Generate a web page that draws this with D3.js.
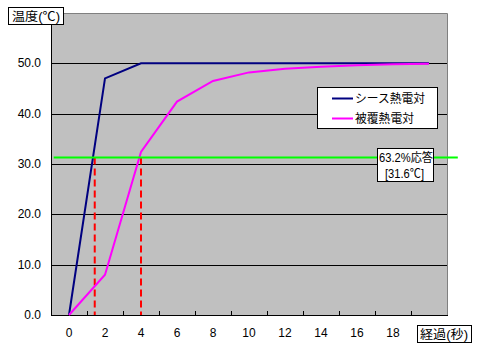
<!DOCTYPE html>
<html>
<head>
<meta charset="utf-8">
<script src="https://d3js.org/d3.v7.min.js"></script>
<style>
  body { margin: 0; background: #fff; }
  text { font-family: "Liberation Sans", "Noto Sans CJK JP", sans-serif; font-size: 12px; fill: #000; }
</style>
</head>
<body>
<svg id="vis"></svg>
<script>
// data
var timeSec = [0, 2, 4, 6, 8, 10, 12, 14, 16, 18, 20];
var sheathTemp = [0, 47, 50, 50, 50, 50, 50, 50, 50, 50, 50];
var coatedTemp = [0, 8, 32.4, 42.4, 46.5, 48.2, 48.9, 49.3, 49.6, 49.8, 49.9];
var seriesNames = ["シース熱電対", "被覆熱電対"];
var seriesColors = ["#000080", "#FF00FF"];
var yTicks = [0, 10, 20, 30, 40, 50];
var xTickLabels = [0, 2, 4, 6, 8, 10, 12, 14, 16, 18];
var xTickMarks = [1, 3, 5, 7, 9, 11, 13, 15, 17, 19];
var responseLevel = 31.3;          // where the green line sits
var responseSpan = [-0.85, 21.6];  // green line runs past the plot
var responseTimes = [1.43, 4];     // red dashed drops

var width = 480, height = 353;
var plot = {left: 51, right: 447, top: 13, bottom: 315};

var svg = d3.select("#vis")
    .attr("width", width)
    .attr("height", height);

var xScale = d3.scaleLinear().domain([-1, 21]).range([plot.left, plot.right]);
var yScale = d3.scaleLinear().domain([0, 60]).range([plot.bottom, plot.top]);

// plot background
svg.append("rect")
    .attr("x", plot.left).attr("y", plot.top)
    .attr("width", plot.right - plot.left).attr("height", plot.bottom - plot.top)
    .attr("fill", "#C0C0C0");

// gridlines
svg.append("g").selectAll("line")
    .data(yTicks.slice(1))
    .enter().append("line")
    .attr("x1", plot.left).attr("x2", plot.right)
    .attr("y1", function(d) { return Math.round(yScale(d)) + 0.5; })
    .attr("y2", function(d) { return Math.round(yScale(d)) + 0.5; })
    .attr("stroke", "#000").attr("stroke-width", 1);

// top / right border
svg.append("path")
    .attr("d", "M" + plot.left + "," + (plot.top + 0.5) + "H" + (plot.right + 0.5) + "V" + plot.bottom)
    .attr("fill", "none").attr("stroke", "#808080").attr("stroke-width", 1);

// axes
svg.append("line")
    .attr("x1", plot.left + 0.5).attr("x2", plot.left + 0.5)
    .attr("y1", plot.top).attr("y2", plot.bottom + 1)
    .attr("stroke", "#000");
svg.append("line")
    .attr("x1", plot.left).attr("x2", plot.right + 1)
    .attr("y1", plot.bottom + 0.5).attr("y2", plot.bottom + 0.5)
    .attr("stroke", "#000");

// x tick marks (inside, between labels)
svg.append("g").selectAll("line")
    .data(xTickMarks)
    .enter().append("line")
    .attr("x1", function(d) { return Math.round(xScale(d)) + 0.5; })
    .attr("x2", function(d) { return Math.round(xScale(d)) + 0.5; })
    .attr("y1", plot.bottom - 4).attr("y2", plot.bottom)
    .attr("stroke", "#000");

// y tick labels
svg.append("g").selectAll("text")
    .data(yTicks)
    .enter().append("text")
    .attr("x", 41)
    .attr("y", function(d) { return yScale(d) + 4; })
    .attr("text-anchor", "end")
    .text(function(d) { return d3.format(".1f")(d); });

// x tick labels
svg.append("g").selectAll("text")
    .data(xTickLabels)
    .enter().append("text")
    .attr("x", function(d) { return xScale(d); })
    .attr("y", 337)
    .attr("text-anchor", "middle")
    .text(function(d) { return d; });

// red dashed drops
svg.append("g").selectAll("line")
    .data(responseTimes)
    .enter().append("line")
    .attr("x1", function(d) { return xScale(d); })
    .attr("x2", function(d) { return xScale(d); })
    .attr("y1", yScale(responseLevel)).attr("y2", plot.bottom)
    .attr("stroke", "#FF0000").attr("stroke-width", 2)
    .attr("stroke-dasharray", "7,4");

// series lines
var line = d3.line()
    .x(function(d) { return xScale(d[0]); })
    .y(function(d) { return yScale(d[1]); });

[sheathTemp, coatedTemp].forEach(function(vals, i) {
    svg.append("path")
        .datum(timeSec.map(function(t, j) { return [t, vals[j]]; }))
        .attr("d", line)
        .attr("fill", "none")
        .attr("stroke", seriesColors[i])
        .attr("stroke-width", 2);
});

// green 63.2% line
svg.append("line")
    .attr("x1", xScale(responseSpan[0])).attr("x2", xScale(responseSpan[1]))
    .attr("y1", yScale(responseLevel)).attr("y2", yScale(responseLevel))
    .attr("stroke", "#00FF00").attr("stroke-width", 2);

// boxed text helper, width squeezed to match the reference
function boxText(x, y, str, len, anchor) {
    return svg.append("text")
        .attr("x", x).attr("y", y)
        .attr("text-anchor", anchor || "start")
        .attr("textLength", len)
        .attr("lengthAdjust", "spacingAndGlyphs")
        .text(str);
}

// legend
svg.append("rect")
    .attr("x", 317.5).attr("y", 87.5).attr("width", 120).attr("height", 41)
    .attr("fill", "#fff").attr("stroke", "#000");
var legendLens = [70, 59];
seriesNames.forEach(function(name, i) {
    var y = 98.5 + i * 20;
    svg.append("line")
        .attr("x1", 332).attr("x2", 353)
        .attr("y1", y).attr("y2", y)
        .attr("stroke", seriesColors[i]).attr("stroke-width", 2);
    boxText(355, y + 4.5, name, legendLens[i]);
});

// 63.2% label
svg.append("rect")
    .attr("x", 377.5).attr("y", 148.5).attr("width", 56).attr("height", 33)
    .attr("fill", "#fff").attr("stroke", "#000");
boxText(379, 162, "63.2%応答", 54);
boxText(385, 178, "[31.6℃]", 39);

// axis titles in boxes
svg.append("rect")
    .attr("x", 8.5).attr("y", 7.5).attr("width", 55).attr("height", 17)
    .attr("fill", "#fff").attr("stroke", "#000");
boxText(12, 20.5, "温度(℃)", 48);

svg.append("rect")
    .attr("x", 417.5).attr("y", 325.5).attr("width", 54).attr("height", 17)
    .attr("fill", "#fff").attr("stroke", "#000");
boxText(420, 338.5, "経過(秒)", 48);
</script>
</body>
</html>
